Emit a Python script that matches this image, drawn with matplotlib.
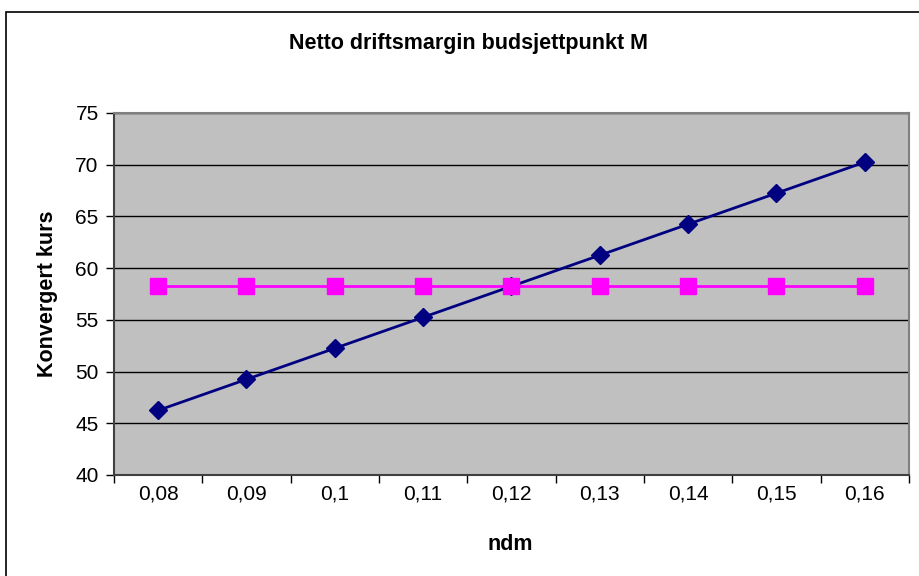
import matplotlib
matplotlib.use("Agg")
import matplotlib.pyplot as plt
from matplotlib.patches import Rectangle

plt.rcParams['font.family'] = ['Liberation Sans', 'DejaVu Sans']

categories = ["0,08", "0,09", "0,1", "0,11", "0,12", "0,13", "0,14", "0,15", "0,16"]
series_ndm = [46.25, 49.25, 52.25, 55.25, 58.25, 61.25, 64.25, 67.25, 70.25]
series_const = [58.25] * 9
yticks = [40, 45, 50, 55, 60, 65, 70, 75]

fig = plt.figure(figsize=(9.2, 5.76), dpi=100)
fig.patches.append(Rectangle((6/920, -0.05), 1.1, 1.05 - 12/576, transform=fig.transFigure,
                             fill=False, edgecolor='black', linewidth=1.2))

ax = fig.add_axes([114/920, 1 - 475/576, (909 - 114)/920, (475 - 113)/576])
ax.set_facecolor('#c0c0c0')

x = list(range(len(categories)))
ax.plot(x, series_ndm, color='#000080', linewidth=2, marker='D', markersize=9.5,
        markerfacecolor='#000080', markeredgecolor='#000080', zorder=3)
ax.plot(x, series_const, color='#ff00ff', linewidth=2, marker='s', markersize=11,
        markerfacecolor='#ff00ff', markeredgecolor='#ff00ff', zorder=3)

ax.set_xlim(-0.5, len(categories) - 0.5)
ax.set_ylim(40, 75)
ax.set_yticks(yticks)
ax.set_yticklabels([str(v) for v in yticks], fontsize=15)
ax.yaxis.grid(True, color='black', linewidth=1)
ax.set_axisbelow(True)

ax.set_xticks([i - 0.5 for i in range(len(categories) + 1)])
ax.set_xticklabels([])
ax.set_xticks(x, minor=True)
ax.set_xticklabels(categories, minor=True, fontsize=15)
ax.tick_params(axis='x', which='minor', length=0, pad=7)
ax.tick_params(axis='x', which='major', length=6, width=1, direction='out')
ax.tick_params(axis='y', length=6, width=1, direction='out', pad=5)

for s in ['top', 'right']:
    ax.spines[s].set_color('#808080')
    ax.spines[s].set_linewidth(1.5)
for s in ['left', 'bottom']:
    ax.spines[s].set_color('#404040')
    ax.spines[s].set_linewidth(1.5)

fig.text(469/920, 1 - 43/576, "Netto driftsmargin budsjettpunkt M", ha='center', va='center',
         fontsize=15.5, fontweight='bold')
fig.text(510/920, 1 - 545/576, "ndm", ha='center', va='center', fontsize=15.5, fontweight='bold')
fig.text(48/920, 1 - 294/576, "Konvergert kurs", ha='center', va='center', rotation=90,
         fontsize=15.5, fontweight='bold')

fig.savefig("out.png", dpi=100)
